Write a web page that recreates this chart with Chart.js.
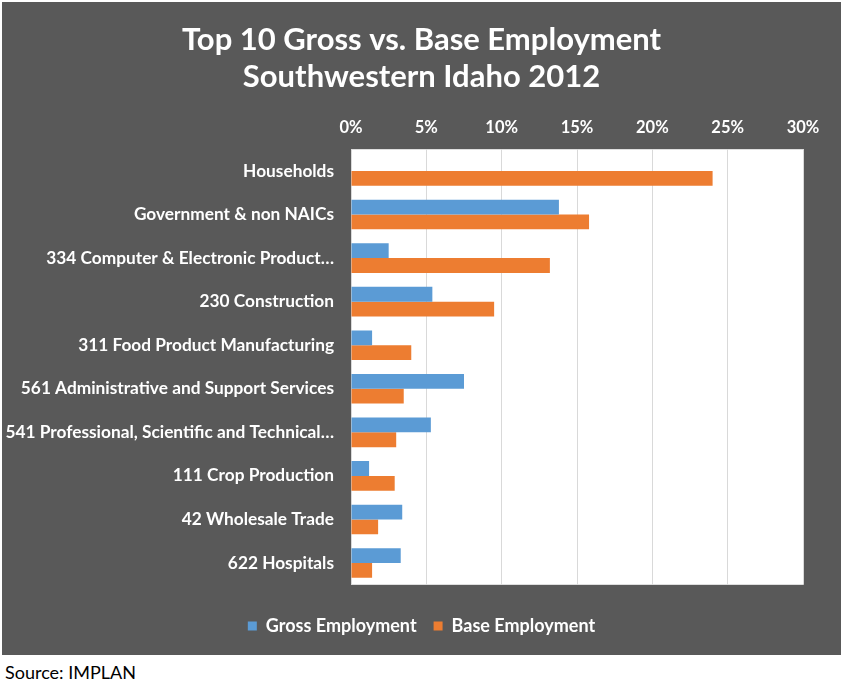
<!DOCTYPE html>
<html>
<head>
<meta charset="utf-8">
<script src="https://cdn.jsdelivr.net/npm/chart.js@4.4.0/dist/chart.umd.min.js"></script>
<style>
  html, body { margin: 0; padding: 0; background: #fff; }
  #box { position: absolute; left: 2px; top: 2px; width: 839px; height: 653px; background: #595959; }
  #source { position: absolute; left: 5px; top: 661px; font: 18px Lato, sans-serif; color: #000; }
</style>
</head>
<body>
<div id="box"><canvas id="chart"></canvas></div>
<div id="source">Source: IMPLAN</div>
<script>
  // categorias y valores (% del empleo)
  var CATEGORIAS = [
    'Households',
    'Government & non NAICs',
    '334 Computer & Electronic Product\u2026',
    '230 Construction',
    '311 Food Product Manufacturing',
    '561 Administrative and Support Services',
    '541 Professional, Scientific and Technical\u2026',
    '111 Crop Production',
    '42 Wholesale Trade',
    '622 Hospitals'
  ];
  var GROSS = [0, 13.8, 2.5, 5.4, 1.4, 7.5, 5.3, 1.2, 3.4, 3.3];
  var BASE = [24.0, 15.8, 13.2, 9.5, 4.0, 3.5, 3.0, 2.9, 1.8, 1.4];
  var TITULO = ['Top 10 Gross vs. Base Employment', 'Southwestern Idaho 2012'];

  var FONT = 'Lato, sans-serif';
  var BLANCO = '#ffffff';

  var fondoArea = {
    id: 'fondoArea',
    beforeDraw: function (chart) {
      var a = chart.chartArea;
      var ctx = chart.ctx;
      ctx.save();
      ctx.fillStyle = '#ffffff';
      ctx.fillRect(a.left, a.top, a.right - a.left, a.bottom - a.top);
      ctx.restore();
    }
  };

  var ctx = document.getElementById('chart').getContext('2d');
  new Chart(ctx, {
    type: 'bar',
    data: {
      labels: CATEGORIAS,
      datasets: [
        { label: 'Gross Employment', data: GROSS, backgroundColor: '#5B9BD5' },
        { label: 'Base Employment', data: BASE, backgroundColor: '#ED7D31' }
      ]
    },
    plugins: [fondoArea],
    options: {
      indexAxis: 'y',
      responsive: true,
      maintainAspectRatio: false,
      animation: false,
      categoryPercentage: 0.68,
      barPercentage: 1.0,
      layout: { padding: { left: 0, right: 0, top: 0, bottom: 10 } },
      plugins: {
        title: {
          display: true,
          text: TITULO,
          color: BLANCO,
          font: { family: FONT, size: 31, weight: 'bold', lineHeight: 1.2 },
          padding: { top: 19, bottom: 10 }
        },
        legend: {
          position: 'bottom',
          title: { display: true, text: ' ', font: { size: 1 }, padding: { top: 14, bottom: 0 } },
          labels: {
            color: BLANCO,
            boxWidth: 9,
            boxHeight: 9,
            padding: 17,
            font: { family: FONT, size: 18, weight: 'bold' }
          }
        },
        tooltip: { enabled: false }
      },
      scales: {
        x: {
          position: 'top',
          min: 0,
          max: 30,
          grid: { color: '#d9d9d9', drawTicks: false },
          border: { display: false },
          ticks: {
            stepSize: 5,
            color: BLANCO,
            padding: 12,
            font: { family: FONT, size: 16.5, weight: 'bold' },
            callback: function (v) { return v + '%'; }
          }
        },
        y: {
          grid: { display: false, drawTicks: false },
          border: { display: false },
          afterFit: function (scale) { scale.width = 349; },
          ticks: {
            color: BLANCO,
            padding: 17,
            autoSkip: false,
            font: { family: FONT, size: 17.3, weight: 'bold' }
          }
        },
        // margen derecho vacio del area gris
        margenDer: {
          type: 'category',
          position: 'right',
          grid: { display: false, drawTicks: false },
          border: { display: false },
          ticks: { display: false },
          afterFit: function (scale) { scale.width = 38; }
        }
      }
    }
  });
</script>
</body>
</html>
